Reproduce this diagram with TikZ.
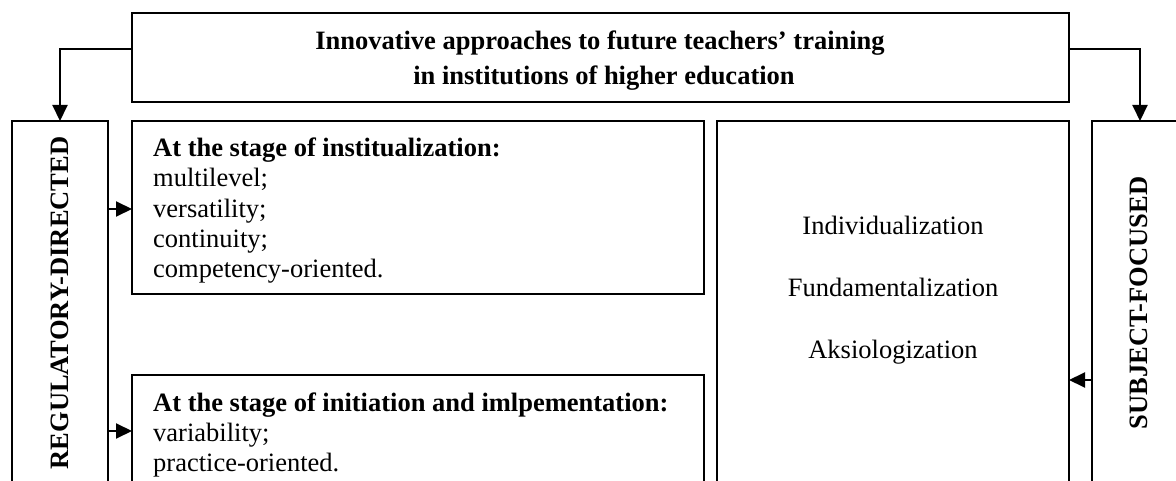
\documentclass[tikz,border=0pt]{standalone}
\usepackage{fontspec}
\setmainfont{Liberation Serif}
\usetikzlibrary{arrows.meta}
\begin{document}
\begin{tikzpicture}[x=1pt,y=-1pt,
  box/.style={draw, line width=2pt, inner sep=0pt, outer sep=0pt, anchor=north west},
  arr/.style={line width=2pt, -{Triangle[length=16pt,width=15pt]}},
  txt/.style={inner sep=0pt, font=\fontsize{26.5}{30}\selectfont},
  btxt/.style={txt, font=\fontsize{26.5}{30}\selectfont\bfseries},
]
\useasboundingbox (0,0) rectangle (1176,481);
\clip (0,0) rectangle (1176,481);
% boxes
\node[box, minimum width=937pt, minimum height=89pt] (top) at (132,13) {};
\node[box, minimum width=96pt, minimum height=440pt] (lft) at (12,121) {};
\node[box, minimum width=96pt, minimum height=440pt] (rgt) at (1092,121) {};
\node[box, minimum width=572pt, minimum height=173pt] (b1) at (132,121) {};
\node[box, minimum width=572pt, minimum height=200pt] (b2) at (132,375) {};
\node[box, minimum width=352pt, minimum height=440pt] (mid) at (717,121) {};
% title text
\node[btxt, anchor=base] (t1) at (600,50) {Innovative approaches to future teachers’ training};
\node[btxt, anchor=base] (t2) at (604,85) {in institutions of higher education};
% side labels
\node[btxt, rotate=90, anchor=center] (lreg) at (60,303) {REGULATORY-DIRECTED};
\node[btxt, rotate=90, anchor=center] (rsub) at (1139,303) {SUBJECT-FOCUSED};
% box 1 text
\node[btxt, anchor=base west] (b1h) at (153,157) {At the stage of institualization:};
\node[txt, anchor=base west] (b1a) at (153,187) {multilevel;};
\node[txt, anchor=base west] (b1b) at (153,218) {versatility;};
\node[txt, anchor=base west] (b1c) at (153,248) {continuity;};
\node[txt, anchor=base west] (b1d) at (153,278) {competency-oriented.};
% box 2 text
\node[btxt, anchor=base west] (b2h) at (153,411) {At the stage of initiation and imlpementation:};
\node[txt, anchor=base west] (b2a) at (153,441) {variability;};
\node[txt, anchor=base west] (b2b) at (153,471) {practice-oriented.};
% middle text
\node[txt, anchor=base] (m1) at (893,235) {Individualization};
\node[txt, anchor=base] (m2) at (893,297) {Fundamentalization};
\node[txt, anchor=base] (m3) at (893,358) {Aksiologization};
% connectors
\draw[arr] ([yshift=8.5pt]top.west) -| (lft.north);
\draw[arr] ([yshift=8.5pt]top.east) -| (rgt.north);
\draw[arr] (lft.east |- 0,209) -- (b1.west |- 0,209);
\draw[arr] (lft.east |- 0,431) -- (b2.west |- 0,431);
\draw[arr] (rgt.west |- 0,380) -- (mid.east |- 0,380);
\end{tikzpicture}
\end{document}
